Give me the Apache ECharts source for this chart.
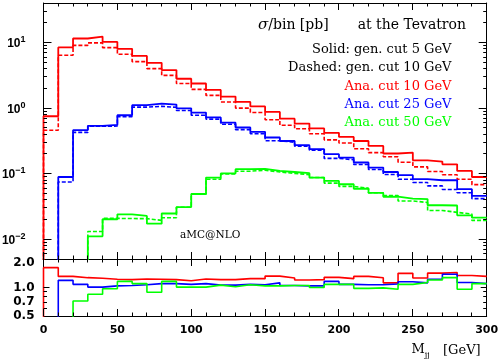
<!DOCTYPE html>
<html><head><meta charset="utf-8">
<script src="https://cdn.jsdelivr.net/npm/echarts@6/dist/echarts.min.js"></script>
<style>html,body{margin:0;padding:0;background:#fff}#c{width:498px;height:363px}</style>
</head><body><div id="c"></div>
<script>
// ---- data (10 GeV bins of M_jj) ----
const binEdges = [0,10,20,30,40,50,60,70,80,90,100,110,120,130,140,150,160,170,180,190,200,210,220,230,240,250,260,270,280,290,300];

const redSolid   = [0.75, 8.4, 11.5, 12.3, 10.2, 8.0, 6.25, 4.9, 3.8, 2.8, 2.37, 1.89, 1.50, 1.24, 1.06, 0.875, 0.69, 0.58, 0.49, 0.42, 0.363, 0.315, 0.265, 0.203, 0.21, 0.160, 0.153, 0.139, 0.110, 0.089];
const redDashed  = [0.46, 6.4, 9.05, 9.85, 8.35, 6.6, 5.1, 4.0, 3.15, 2.37, 1.93, 1.56, 1.24, 1.0, 0.855, 0.665, 0.548, 0.483, 0.405, 0.328, 0.293, 0.24, 0.209, 0.181, 0.149, 0.127, 0.108, 0.0965, 0.082, 0.068];
const blueSolid  = [null, 0.089, 0.46, 0.535, 0.553, 0.778, 1.106, 1.17, 1.13, 0.99, 0.855, 0.72, 0.60, 0.506, 0.434, 0.356, 0.315, 0.272, 0.236, 0.198, 0.176, 0.148, 0.124, 0.106, 0.0947, 0.0823, 0.0794, 0.0794, 0.058, 0.0458];
const blueDashed = [null, 0.0748, 0.426, 0.53, 0.532, 0.741, 1.034, 1.064, 1.027, 0.917, 0.777, 0.679, 0.566, 0.469, 0.406, 0.318, 0.30, 0.262, 0.227, 0.171, 0.163, 0.138, 0.116, 0.097, 0.0823, 0.0735, 0.0651, 0.0575, 0.0513, 0.0416];
const greenSolid = [null, null, null, 0.0111, 0.0202, 0.024, 0.0227, 0.0173, 0.0247, 0.031, 0.049, 0.0873, 0.1008, 0.117, 0.118, 0.110, 0.106, 0.1016, 0.0873, 0.0775, 0.069, 0.0589, 0.0508, 0.0445, 0.0415, 0.041, 0.033, 0.0327, 0.0232, 0.0213];
const greenDashed= [null, null, null, 0.0131, 0.0208, 0.0207, 0.0206, 0.0194, 0.0213, 0.0307, 0.0485, 0.0824, 0.099, 0.109, 0.113, 0.106, 0.101, 0.0968, 0.0873, 0.0718, 0.0639, 0.0601, 0.0513, 0.0464, 0.0384, 0.0363, 0.0275, 0.0257, 0.0242, 0.0194];

const redRatio   = [1.62, 1.31, 1.27, 1.25, 1.22, 1.21, 1.23, 1.22, 1.21, 1.18, 1.23, 1.21, 1.21, 1.24, 1.24, 1.32, 1.26, 1.20, 1.21, 1.28, 1.24, 1.31, 1.27, 1.12, 1.41, 1.26, 1.42, 1.44, 1.34, 1.31];
const blueRatio  = [null, 1.19, 1.08, 1.01, 1.04, 1.05, 1.07, 1.10, 1.10, 1.08, 1.10, 1.06, 1.06, 1.08, 1.07, 1.12, 1.05, 1.04, 1.04, 1.16, 1.08, 1.07, 1.07, 1.09, 1.15, 1.12, 1.22, 1.38, 1.13, 1.10];
const greenRatio = [null, null, 0.72, 0.85, 0.97, 1.16, 1.10, 0.89, 1.16, 1.01, 1.01, 1.06, 1.02, 1.07, 1.04, 1.04, 1.05, 1.05, 1.00, 1.08, 1.08, 0.98, 0.99, 0.96, 1.08, 1.13, 1.20, 1.27, 0.96, 1.10];

// ---- axis ranges, ticks, labels ----
const xRange = [0, 300];
const xMajorTicks = [0, 50, 100, 150, 200, 250, 300];
const xMinorTicks = [10,20,30,40,60,70,80,90,110,120,130,140,160,170,180,190,210,220,230,240,260,270,280,290];
const mainRange = [0.005, 40];
const mainMajorTicks = [0.01, 0.1, 1, 10];
const mainMinorTicks = [0.006,0.007,0.008,0.009,0.02,0.03,0.04,0.05,0.06,0.07,0.08,0.09,0.2,0.3,0.4,0.5,0.6,0.7,0.8,0.9,2,3,4,5,6,7,8,9,20,30];
const ratioRange = [0.5, 2];
const ratioLabelValues = [0.5, 0.7, 1, 2];
const ratioMajorTicks = [1];
const ratioMinorTicks = [0.6, 0.7, 0.8, 0.9];

const RED = '#ff0000', BLUE = '#0000ff', GREEN = '#00ff00';

function stepData(vals, floorVal) {
  const first = vals.findIndex(v => v != null);
  const pts = [[binEdges[first], floorVal]];
  for (let i = first; i < vals.length; i++) pts.push([binEdges[i], vals[i]]);
  pts.push([binEdges[vals.length], vals[vals.length - 1]]);
  return pts;
}

const chart = echarts.init(document.getElementById('c'), null, {renderer: 'canvas'});

const G0 = {left: 43.5, top: 3, width: 443.2, height: 256, outerBoundsMode: 'none'};
const G1 = {left: 43.5, top: 259, width: 443.2, height: 57, outerBoundsMode: 'none'};

function lineSt() { return {color: '#000', width: 1}; }
function xAx(grid, pos, labels) {
  return {
    gridIndex: grid, type: 'value', min: xRange[0], max: xRange[1], interval: 50, position: pos,
    axisLine: {show: true, onZero: false, lineStyle: lineSt()},
    axisTick: {show: false}, minorTick: {show: false},
    splitLine: {show: false}, minorSplitLine: {show: false},
    axisLabel: labels ? {show: true, margin: 9, color: '#000', fontFamily: 'DejaVu Sans', fontWeight: 'bold', fontSize: 11, showMinLabel: true, showMaxLabel: true} : {show: false}
  };
}
function yAx(grid, range, pos, label) {
  return {
    gridIndex: grid, type: 'log', logBase: 10, min: range[0], max: range[1], position: pos,
    axisLine: {show: true, onZero: false, lineStyle: lineSt()},
    axisTick: {show: false}, minorTick: {show: false},
    splitLine: {show: false}, minorSplitLine: {show: false},
    axisLabel: label || {show: false}
  };
}

const option = {
  animation: false,
  backgroundColor: '#fff',
  grid: [G0, G1],
  xAxis: [xAx(0, 'bottom', false), xAx(0, 'top', false), xAx(1, 'bottom', true), xAx(1, 'top', false)],
  yAxis: [
    yAx(0, mainRange, 'left', {
      show: true, margin: 18, color: '#000', showMinLabel: true, showMaxLabel: true,
      customValues: mainMajorTicks,
      formatter: function (v) {
        const e = Math.log10(v), r = Math.round(e);
        if (Math.abs(e - r) > 1e-6) return '';
        return '{b|10}{s|' + (r < 0 ? '\u2212' + (-r) : r) + '}';
      },
      rich: {
        b: {fontFamily: 'Liberation Sans', fontWeight: 'bold', fontSize: 12, lineHeight: 15, verticalAlign: 'bottom', color: '#000'},
        s: {fontFamily: 'Liberation Sans', fontWeight: 'bold', fontSize: 9, lineHeight: 11, verticalAlign: 'top', color: '#000'}
      }
    }),
    yAx(0, mainRange, 'right'),
    yAx(1, ratioRange, 'left', {
      show: true, margin: 9, color: '#000', fontFamily: 'DejaVu Sans', fontWeight: 'bold', fontSize: 12,
      customValues: ratioLabelValues, showMinLabel: true, showMaxLabel: true,
      formatter: function (v) { const s = Number(v).toFixed(1); return s === '2.0' ? '{d|2.0}' : s; },
      rich: {d: {fontFamily: 'DejaVu Sans', fontWeight: 'bold', fontSize: 12, color: '#000', padding: [7, 0, 0, 0]}}
    }),
    yAx(1, ratioRange, 'right')
  ],
  series: [],
  graphic: []
};

function addSeries(vals, color, dashed, xi, yi, floorVal, w) {
  option.series.push({
    type: 'line', xAxisIndex: xi, yAxisIndex: yi, data: stepData(vals, floorVal),
    step: 'end', symbol: 'none', clip: true, silent: true,
    lineStyle: {color: color, width: w, type: dashed ? [4, 2] : 'solid'}
  });
}
const MAIN_FLOOR = 1e-4, RATIO_FLOOR = 0.1;
addSeries(redDashed, RED, true, 0, 0, MAIN_FLOOR, 1.6);
addSeries(blueDashed, BLUE, true, 0, 0, MAIN_FLOOR, 1.6);
addSeries(greenDashed, GREEN, true, 0, 0, MAIN_FLOOR, 1.6);
addSeries(redSolid, RED, false, 0, 0, MAIN_FLOOR, 1.8);
addSeries(blueSolid, BLUE, false, 0, 0, MAIN_FLOOR, 1.8);
addSeries(greenSolid, GREEN, false, 0, 0, MAIN_FLOOR, 1.8);
addSeries(redRatio, RED, false, 2, 2, RATIO_FLOOR, 1.6);
addSeries(blueRatio, BLUE, false, 2, 2, RATIO_FLOOR, 1.6);
addSeries(greenRatio, GREEN, false, 2, 2, RATIO_FLOOR, 1.6);

// ---- annotations ----
const serif = 'DejaVu Serif';
function txt(text, x, y, color, size, align) {
  return {type: 'text', x: x, y: y, silent: true, z: 100,
    style: {text: text, fill: color, fontFamily: serif, fontSize: size, align: align, verticalAlign: 'middle'}};
}
const graphics = [
  {type: 'text', x: 258, y: 25, silent: true, z: 100,
   style: {text: '{i|\u03c3}/bin [pb]', fill: '#000', fontFamily: serif, fontSize: 14, align: 'left', verticalAlign: 'middle',
           rich: {i: {fontFamily: serif, fontStyle: 'italic', fontSize: 15, fill: '#000'}}}},
  txt('at the Tevatron', 466, 25, '#000', 14, 'right'),
  txt('Solid: gen. cut 5 GeV', 451.5, 49.5, '#000', 13, 'right'),
  txt('Dashed: gen. cut 10 GeV', 451.5, 68, '#000', 13, 'right'),
  txt('Ana. cut 10 GeV', 451.5, 86.5, RED, 13, 'right'),
  txt('Ana. cut 25 GeV', 451.5, 105, BLUE, 13, 'right'),
  txt('Ana. cut 50 GeV', 451.5, 123, GREEN, 13, 'right'),
  txt('aMC@NLO', 180, 235, '#000', 10.5, 'left'),
  {type: 'text', x: 411.5, y: 351, silent: true, z: 100,
   style: {text: '{m|M}{s|jj}', fill: '#000', fontFamily: serif, align: 'left', verticalAlign: 'middle',
           rich: {m: {fontFamily: serif, fontSize: 13, lineHeight: 16, verticalAlign: 'top', fill: '#000'},
                  s: {fontFamily: serif, fontSize: 8, lineHeight: 12, verticalAlign: 'bottom', fill: '#000'}}}},
  txt('[GeV]', 443, 351, '#000', 13, 'left')
];
option.graphic = graphics.slice();

chart.setOption(option);

// ---- inward tick marks on all four sides, positioned through the axes' own scales ----
function crisp(v) { return Math.round(v - 0.5) + 0.5; }
function tickLine(x1, y1, x2, y2) {
  return {type: 'line', silent: true, z: 50,
    shape: {x1: x1, y1: y1, x2: x2, y2: y2}, style: {stroke: '#000', lineWidth: 1}};
}
function addXTicks(finder, yRange, values, len) {
  values.forEach(v => {
    const pb = chart.convertToPixel(finder, [v, yRange[0]]);
    const pt = chart.convertToPixel(finder, [v, yRange[1]]);
    if (!pb || !pt) return;
    const x = crisp(pb[0]);
    graphics.push(tickLine(x, pb[1], x, pb[1] - len), tickLine(x, pt[1], x, pt[1] + len));
  });
}
function addYTicks(finder, values, len) {
  values.forEach(v => {
    const pl = chart.convertToPixel(finder, [xRange[0], v]);
    const pr = chart.convertToPixel(finder, [xRange[1], v]);
    if (!pl || !pr) return;
    const y = crisp(pl[1]);
    graphics.push(tickLine(pl[0], y, pl[0] + len, y), tickLine(pr[0], y, pr[0] - len, y));
  });
}
const F0 = {xAxisIndex: 0, yAxisIndex: 0}, F1 = {xAxisIndex: 2, yAxisIndex: 2};
addXTicks(F0, mainRange, xMajorTicks, 7);
addXTicks(F0, mainRange, xMinorTicks, 3.5);
addYTicks(F0, mainMajorTicks, 8);
addYTicks(F0, mainMinorTicks, 3.5);
addXTicks(F1, ratioRange, xMajorTicks, 7);
addXTicks(F1, ratioRange, xMinorTicks, 3.5);
addYTicks(F1, ratioMajorTicks, 6);
addYTicks(F1, ratioMinorTicks, 3.5);

chart.setOption({graphic: graphics});
</script></body></html>
